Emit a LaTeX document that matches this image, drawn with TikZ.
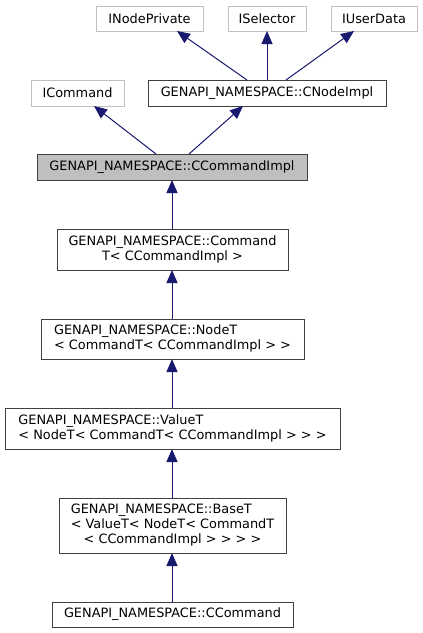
\documentclass[tikz,border=0pt]{standalone}
\usepackage{fontspec}
\setmainfont{DejaVu Sans}
\usetikzlibrary{arrows.meta,calc}
\definecolor{edgeblue}{HTML}{191970}
\definecolor{boxline}{HTML}{404040}
\definecolor{extline}{HTML}{BFBFBF}
\definecolor{hlfill}{HTML}{BFBFBF}
\begin{document}
\begin{tikzpicture}[x=0.75pt,y=-0.75pt,
  cls/.style={draw=boxline,line width=0.75pt,fill=white,inner sep=0pt,outer sep=0pt,
    font=\fontsize{9.66pt}{11.25pt}\selectfont,align=center},
  extcls/.style={cls,draw=extline},
  hlcls/.style={cls,fill=hlfill},
  inh/.style={draw=edgeblue,line width=0.75pt,{Triangle[length=9.75pt,width=8.25pt]}-}]
\useasboundingbox[fill=white] (0,0) rectangle (423,633);
% external interfaces
\node[extcls,minimum width=107*0.75pt,minimum height=25*0.75pt] (inp) at (149.5,18.5) {INodePrivate};
\node[extcls,minimum width=78*0.75pt,minimum height=25*0.75pt] (isel) at (267,18.5) {ISelector};
\node[extcls,minimum width=86*0.75pt,minimum height=25*0.75pt] (iud) at (374,18.5) {IUserData};
\node[extcls,minimum width=93*0.75pt,minimum height=26*0.75pt] (icmd) at (77.5,93) {ICommand};
% classes
\node[cls,minimum width=238*0.75pt,minimum height=26*0.75pt] (cni) at (267,93) {GENAPI\_NAMESPACE::CNodeImpl};
\node[hlcls,minimum width=270*0.75pt,minimum height=26*0.75pt] (cci) at (172,167) {GENAPI\_NAMESPACE::CCommandImpl};
\node[cls,minimum width=231*0.75pt,minimum height=41*0.75pt] (cmdt) at (172.5,249.5)
  {\begin{tabular}{@{}l@{}}GENAPI\_NAMESPACE::Command\\\multicolumn{1}{@{}c@{}}{T< CCommandImpl >}\end{tabular}};
\node[cls,minimum width=263*0.75pt,minimum height=40*0.75pt] (nodet) at (172.5,339)
  {\begin{tabular}{@{}l@{}}GENAPI\_NAMESPACE::NodeT\\\multicolumn{1}{@{}c@{}}{< CommandT< CCommandImpl > >}\end{tabular}};
\node[cls,minimum width=335*0.75pt,minimum height=41*0.75pt] (valuet) at (172.5,428.5)
  {\begin{tabular}{@{}l@{}}GENAPI\_NAMESPACE::ValueT\\\multicolumn{1}{@{}c@{}}{< NodeT< CommandT< CCommandImpl > > >}\end{tabular}};
\node[cls,minimum width=227*0.75pt,minimum height=55*0.75pt] (baset) at (172.5,525.5)
  {\begin{tabular}{@{}l@{}}GENAPI\_NAMESPACE::BaseT\\< ValueT< NodeT< CommandT\\\multicolumn{1}{@{}c@{}}{< CCommandImpl > > > >}\end{tabular}};
\node[cls,minimum width=241*0.75pt,minimum height=25*0.75pt] (ccmd) at (172.5,614.5) {GENAPI\_NAMESPACE::CCommand};
% inheritance edges
\draw[inh] ($(inp.south)+(27.5,0)$) -- ($(cni.north)+(-20,0)$);
\draw[inh] (isel.south) -- (cni.north);
\draw[inh] ($(iud.south)+(-20,0)$) -- ($(cni.north)+(19,0)$);
\draw[inh] ($(icmd.south)+(16.5,0)$) -- ($(cci.north)+(-16,0)$);
\draw[inh] ($(cni.south)+(-24,0)$) -- ($(cci.north)+(17,0)$);
\draw[inh] (cci.south) -- (cci.south |- cmdt.north);
\draw[inh] (cci.south |- cmdt.south) -- (cci.south |- nodet.north);
\draw[inh] (cci.south |- nodet.south) -- (cci.south |- valuet.north);
\draw[inh] (cci.south |- valuet.south) -- (cci.south |- baset.north);
\draw[inh] (cci.south |- baset.south) -- (cci.south |- ccmd.north);
\end{tikzpicture}
\end{document}
